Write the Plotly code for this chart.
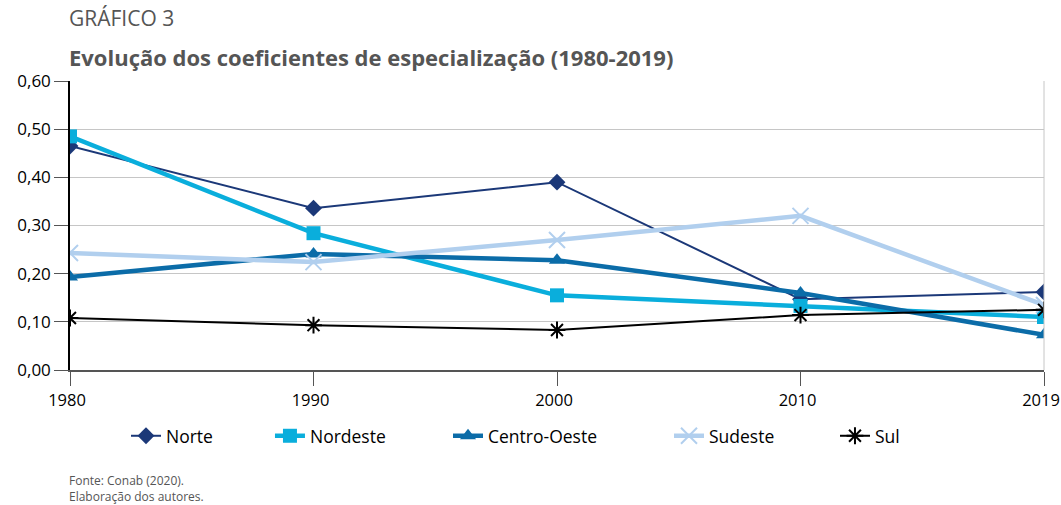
import plotly.graph_objects as go

# Data
anos = ['1980', '1990', '2000', '2010', '2019']
norte = [0.465, 0.336, 0.390, 0.147, 0.162]
nordeste = [0.485, 0.284, 0.155, 0.133, 0.110]
centro_oeste = [0.193, 0.241, 0.228, 0.160, 0.073]
sudeste = [0.243, 0.224, 0.270, 0.320, 0.135]
sul = [0.108, 0.093, 0.083, 0.114, 0.125]

FONT = 'Open Sans, Arial'
GRID = '#c6c6c6'

series = [
    ('Norte', norte, '#1b3878', 2, 'diamond', 13, 0.0575),
    ('Nordeste', nordeste, '#0aaedc', 4.5, 'square', 14, 0.2053),
    ('Centro-Oeste', centro_oeste, '#0b6ca8', 4.5, 'triangle-up', 14, 0.3881),
    ('Sudeste', sudeste, '#b1cfee', 4.5, 'x-thin', 16, 0.615),
    ('Sul', sul, '#000000', 2, 'asterisk', 14, 0.7854),
]

fig = go.Figure()
legends = {}
for i, (name, vals, color, width, symbol, size, lx) in enumerate(series):
    lg = 'legend' if i == 0 else f'legend{i + 1}'
    fig.add_trace(go.Scatter(
        x=anos, y=vals, name=name, mode='lines+markers', legend=lg,
        line=dict(color=color, width=width),
        marker=dict(symbol=symbol, size=size, color=color,
                    line=dict(color=color, width=2 if 'thin' in symbol or symbol == 'asterisk' else 0)),
    ))
    legends[lg] = dict(orientation='h', x=lx, xanchor='left', y=-0.228, yanchor='middle',
                       font=dict(size=17.5, family=FONT), bgcolor='rgba(0,0,0,0)')

# right border of plot area
fig.add_shape(type='line', xref='paper', yref='paper', x0=1, x1=1, y0=0, y1=1,
              line=dict(color=GRID, width=1))

fig.update_layout(
    width=1061, height=505,
    margin=dict(l=70, r=17, t=81, b=135),
    paper_bgcolor='white', plot_bgcolor='white',
    font=dict(family=FONT, color='#000000', size=17),
    separators=',.',
    showlegend=True,
    xaxis=dict(type='category', range=[0, 4], showgrid=False, showline=True,
               linecolor='#555555', linewidth=1.5, ticks='outside', ticklen=14,
               tickcolor='#555555', tickfont=dict(size=16.5), zeroline=False,
               ticklabelshift=-3, automargin=False),
    yaxis=dict(range=[0, 0.6], dtick=0.1, tickformat='.2f', showgrid=True,
               gridcolor=GRID, gridwidth=1, showline=True, linecolor='#000000',
               linewidth=1.5, ticks='outside', ticklen=14, tickcolor='#555555',
               tickfont=dict(size=17), zeroline=False, automargin=False),
    annotations=[
        dict(text='GRÁFICO 3', xref='paper', yref='paper', x=-0.003, y=1.218,
             xanchor='left', yanchor='middle', showarrow=False,
             font=dict(size=21, color='#555555', family=FONT)),
        dict(text='<b>Evolução dos coeficientes de especialização (1980-2019)</b>',
             xref='paper', yref='paper', x=-0.003, y=1.083, xanchor='left',
             yanchor='middle', showarrow=False,
             font=dict(size=22, color='#555555', family=FONT)),
        dict(text='Fonte: Conab (2020).<br>Elaboração dos autores.',
             xref='paper', yref='paper', x=-0.003, y=-0.345, xanchor='left',
             yanchor='top', showarrow=False, align='left',
             font=dict(size=12, color='#555555', family=FONT)),
    ],
    **legends,
)

fig.write_html('out.html', config={'displayModeBar': False},
               post_script="document.body.style.margin='0';")
